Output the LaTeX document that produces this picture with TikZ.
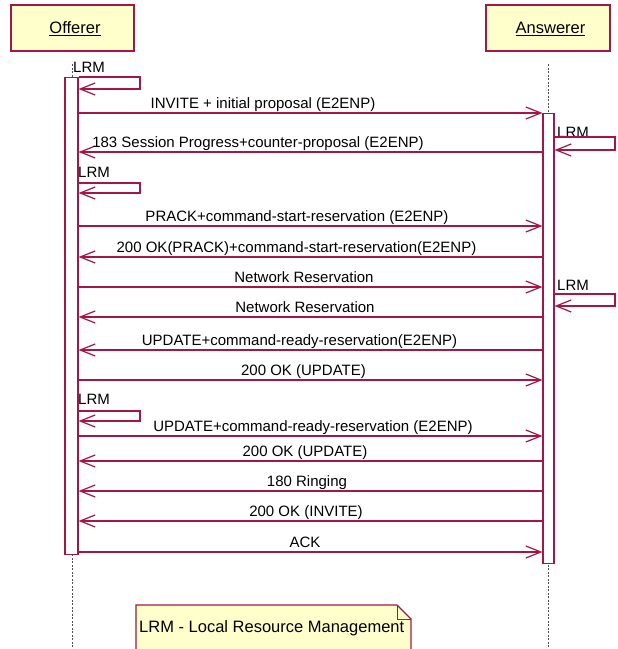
\documentclass[tikz,border=0pt]{standalone}
\usepackage{fontspec}
\setmainfont{Liberation Sans}
\usetikzlibrary{arrows.meta}
\definecolor{umlred}{RGB}{164,22,72}
\definecolor{umlfill}{RGB}{255,255,204}
\definecolor{lifegray}{RGB}{80,80,80}
\tikzset{
  hdr/.style={draw=umlred, fill=umlfill, line width=1.2pt, minimum height=46pt, inner sep=0pt, text height=12pt, text depth=1.4pt, font=\fontsize{16.5}{18}\selectfont},
  actbar/.style={draw=umlred, fill=white, line width=1.2pt, anchor=north, inner sep=0pt},
  msg/.style={draw=umlred, line width=1.2pt, -{Straight Barb[length=15pt,width=12pt,line width=1.2pt]}},
  lbl/.style={font=\fontsize{15}{17}\selectfont, inner sep=0pt, anchor=base},
  selflbl/.style={font=\fontsize{15}{17}\selectfont, inner sep=0pt, anchor=base west},
  life/.style={draw=lifegray, line width=1pt, dash pattern=on 2pt off 1.5pt},
  notebox/.style={draw=umlred, fill=umlfill, line width=1.2pt}
}
\begin{document}
\begin{tikzpicture}[x=1pt,y=-1pt]
\useasboundingbox (0,0) rectangle (618,649);
% headers
\node[hdr, minimum width=123pt] (off) at (72.5,28) {\hspace*{5pt}\underline{Offerer}};
\node[hdr, minimum width=124pt] (ans) at (548,28) {\hspace*{5pt}\underline{Answerer}};
% lifelines
\coordinate (offtop) at (72,64);
\coordinate (offbot) at (72,655);
\coordinate (anstop) at (548.5,64);
\coordinate (ansbot) at (548.5,655);
\draw[life] (offtop) -- (offbot);
\draw[life] (anstop) -- (ansbot);
% activation bars
\node[actbar, minimum width=13pt, minimum height=477pt] (ob) at (71.5,77) {};
\node[actbar, minimum width=11pt, minimum height=450pt] (ab) at (548.5,113) {};
% self message LRM (offerer) 1
\node[selflbl] (l1) at (73,72) {LRM};
\draw[msg] (ob.east |- 0,77) -- (140,77) -- (140,89) -- (ob.east |- 0,89);
% INVITE
\draw[msg] (ob.east |- 0,113) -- (ab.west |- 0,113);
\node[lbl] (m1) at (263,108) {INVITE + initial proposal (E2ENP)};
% LRM answerer 1
\node[selflbl] (l2) at (557,137) {LRM};
\draw[msg] (ab.east |- 0,137) -- (615,137) -- (615,150) -- (ab.east |- 0,150);
% 183
\draw[msg] (ab.west |- 0,152) -- (ob.east |- 0,152);
\node[lbl] (m2) at (258,147) {183 Session Progress+counter-proposal (E2ENP)};
% LRM offerer 2
\node[selflbl] (l3) at (78,177) {LRM};
\draw[msg] (ob.east |- 0,183) -- (140,183) -- (140,193) -- (ob.east |- 0,193);
% PRACK
\draw[msg] (ob.east |- 0,226) -- (ab.west |- 0,226);
\node[lbl] (m3) at (297,221.5) {PRACK+command-start-reservation (E2ENP)};
% 200 OK PRACK
\draw[msg] (ab.west |- 0,257) -- (ob.east |- 0,257);
\node[lbl] (m4) at (296.5,252.3) {200 OK(PRACK)+command-start-reservation(E2ENP)};
% Network Reservation right
\draw[msg] (ob.east |- 0,287) -- (ab.west |- 0,287);
\node[lbl] (m5) at (304,282) {Network Reservation};
% LRM answerer 2
\node[selflbl] (l4) at (557,290) {LRM};
\draw[msg] (ab.east |- 0,294) -- (615,294) -- (615,306) -- (ab.east |- 0,306);
% Network Reservation left
\draw[msg] (ab.west |- 0,317) -- (ob.east |- 0,317);
\node[lbl] (m6) at (305,312) {Network Reservation};
% UPDATE left
\draw[msg] (ab.west |- 0,350) -- (ob.east |- 0,350);
\node[lbl] (m7) at (299.5,345) {UPDATE+command-ready-reservation(E2ENP)};
% 200 OK UPDATE right
\draw[msg] (ob.east |- 0,380) -- (ab.west |- 0,380);
\node[lbl] (m8) at (303.5,375) {200 OK (UPDATE)};
% LRM offerer 3
\node[selflbl] (l5) at (78,404) {LRM};
\draw[msg] (ob.east |- 0,411) -- (140,411) -- (140,421) -- (ob.east |- 0,421);
% UPDATE right
\draw[msg] (ob.east |- 0,436) -- (ab.west |- 0,436);
\node[lbl] (m9) at (313,431) {UPDATE+command-ready-reservation (E2ENP)};
% 200 OK UPDATE left
\draw[msg] (ab.west |- 0,461) -- (ob.east |- 0,461);
\node[lbl] (m10) at (305,456) {200 OK (UPDATE)};
% 180 Ringing
\draw[msg] (ab.west |- 0,491) -- (ob.east |- 0,491);
\node[lbl] (m11) at (307,486) {180 Ringing};
% 200 OK INVITE
\draw[msg] (ab.west |- 0,521) -- (ob.east |- 0,521);
\node[lbl] (m12) at (306,516) {200 OK (INVITE)};
% ACK
\draw[msg] (ob.east |- 0,552) -- (ab.west |- 0,552);
\node[lbl] (m13) at (305,547) {ACK};
% note
\draw[notebox] (136,660) -- (136,605) -- (397,605) -- (411,619) -- (411,660) -- cycle;
\draw[draw=umlred, line width=1pt] (397,605) -- (397,619) -- (411,619);
\node[font=\fontsize{16.5}{18}\selectfont, anchor=base west, inner sep=0pt] (note) at (139,632) {LRM - Local Resource Management};
\end{tikzpicture}
\end{document}
